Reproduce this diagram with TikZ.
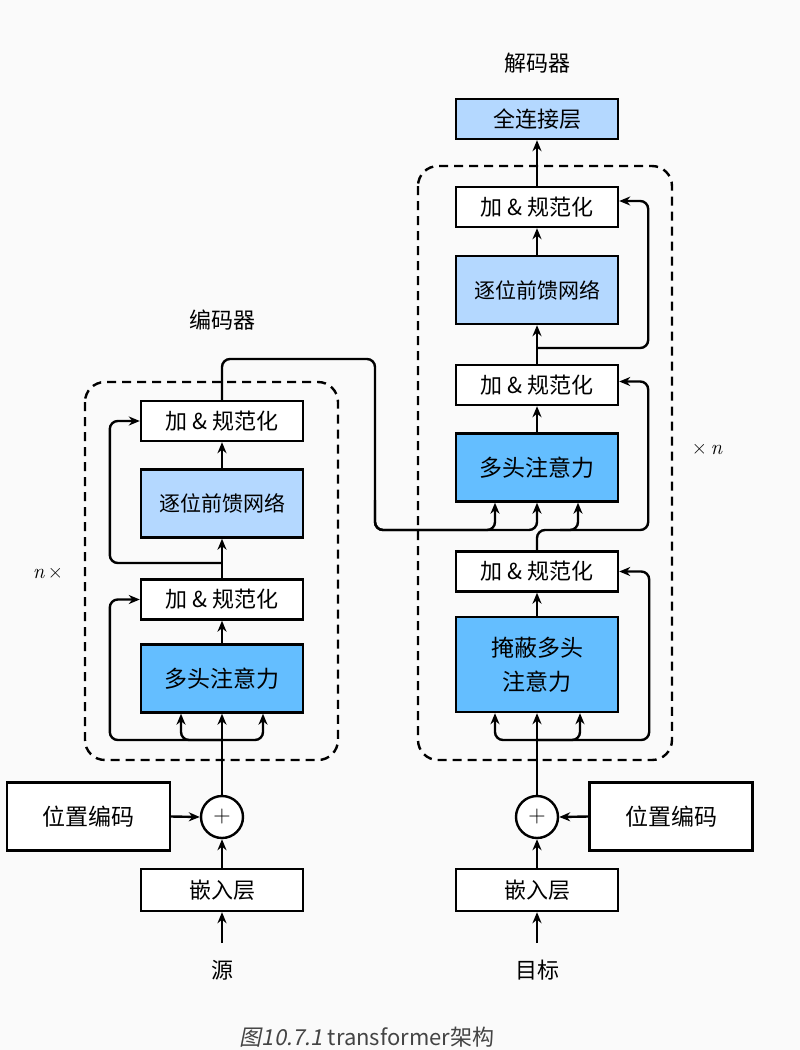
\documentclass[tikz,border=0pt]{standalone}
\usepackage{fontspec}
\setmainfont{Noto Sans CJK SC}
\newfontfamily\capslant[FakeSlant=0.2]{Noto Sans CJK SC}
\newfontfamily\lmfont{Latin Modern Roman}
\usetikzlibrary{arrows.meta,calc}
\definecolor{bgc}{HTML}{FAFAFA}
\definecolor{mhac}{HTML}{64BEFF}
\definecolor{ffnc}{HTML}{B4D8FF}
\definecolor{capc}{HTML}{444444}
\begin{document}
\begin{tikzpicture}[x=1pt,y=-1pt,
  box/.style={draw, line width=2.4pt, minimum width=162pt, inner sep=0pt, font=\fontsize{22}{26}\selectfont},
  an/.style={box, minimum height=40pt, fill=white},
  ffnbox/.style={box, minimum height=68pt, fill=ffnc, font=\fontsize{21}{25}\selectfont},
  mhabox/.style={box, minimum height=68pt, fill=mhac, font=\fontsize{23}{27}\selectfont},
  pebox/.style={box, minimum width=163pt, minimum height=68pt, fill=white, font=\fontsize{23}{27}\selectfont},
  plus/.style={draw, circle, line width=2.4pt, minimum size=42pt, inner sep=0pt, fill=white, font=\fontsize{24}{24}\lmfont},
  title/.style={font=\fontsize{22}{26}\selectfont},
  lbl/.style={font=\fontsize{22}{26}\selectfont},
  repl/.style={font=\fontsize{21}{25}\lmfont},
  arr/.style={line width=2.4pt, -{Stealth[length=11pt,width=9pt,inset=3.5pt]}},
  rc/.style={rounded corners=8pt},
  dashbox/.style={line width=2.4pt, dash pattern=on 9pt off 6pt, rounded corners=20pt}
]
\useasboundingbox (0,0) rectangle (800,1050);
\clip (0,0) rectangle (800,1050);
\fill[bgc] (0,0) rectangle (800,1050);

% ---------- encoder ----------
\node[title] (etitle) at (222,320) {编码器};
\draw[dashbox] (85,382) rectangle (338,760);
\node[lbl] (elbl) at (222,970) {源};
\node[repl] (enx) at (48,574) {{\itshape n}\,×};

\node[an] (eAN2) at (222,421) {加 \& 规范化};
\node[ffnbox] (eFFN) at (222,503.5) {逐位前馈网络};
\node[an] (eAN1) at (222,599.5) {加 \& 规范化};
\node[mhabox] (eMHA) at (222,678.5) {多头注意力};
\node[plus] (ePlus) at (222,817) {+};
\node[pebox] (ePE) at (88.5,816.5) {位置编码};
\node[an, minimum height=42pt] (eEmb) at (222,890) {嵌入层};
\coordinate (esrc) at (222,943);

\draw[arr] (esrc) -- (eEmb.south);
\draw[arr] (eEmb.north) -- (ePlus.south);
\draw[arr] (ePE.east) -- (ePlus.west);
\draw[arr] (ePlus.north) -- (eMHA.south);
\coordinate (es1) at (222,740);
\draw[arr,rc] (es1) -| ([xshift=-41pt]eMHA.south);
\draw[arr,rc] (es1) -| ([xshift=41pt]eMHA.south);
\draw[arr,rc] (es1) -| ([xshift=-30pt]eAN1.west) -- (eAN1.west);
\draw[arr] (eMHA.north) -- (eAN1.south);
\draw[arr] (eAN1.north) -- (eFFN.south);
\coordinate (es2) at (222,563);
\draw[arr,rc] (es2) -| ([xshift=-30pt]eAN2.west) -- (eAN2.west);
\draw[arr] (eFFN.north) -- (eAN2.south);

% ---------- decoder ----------
\node[title] (dtitle) at (537,63) {解码器};
\draw[dashbox] (418,166) rectangle (672,760);
\node[lbl] (dlbl) at (537,970) {目标};
\node[repl] (dnx) at (707,450) {×\,{\itshape n}};

\node[box, minimum height=40pt, fill=ffnc] (fc) at (537,119) {全连接层};
\node[an] (dAN3) at (537,207) {加 \& 规范化};
\node[ffnbox] (dFFN) at (537,290) {逐位前馈网络};
\node[an] (dAN2) at (537,385) {加 \& 规范化};
\node[mhabox] (dMHA) at (537,467.5) {多头注意力};
\node[an] (dAN1) at (537,571.5) {加 \& 规范化};
\node[mhabox, minimum height=95pt, align=center, font=\fontsize{23}{34}\selectfont] (dMMHA) at (537,664.5) {掩蔽多头\\注意力};
\node[plus] (dPlus) at (537,817) {+};
\node[pebox] (dPE) at (671,816.5) {位置编码};
\node[an, minimum height=42pt] (dEmb) at (537,890) {嵌入层};
\coordinate (dsrc) at (537,943);

\draw[arr] (dsrc) -- (dEmb.south);
\draw[arr] (dEmb.north) -- (dPlus.south);
\draw[arr] (dPE.west) -- (dPlus.east);
\draw[arr] (dPlus.north) -- (dMMHA.south);
\coordinate (ds1) at (537,740);
\draw[arr,rc] (ds1) -| ([xshift=-42pt]dMMHA.south);
\draw[arr,rc] (ds1) -| ([xshift=43pt]dMMHA.south);
\draw[arr,rc] (ds1) -| ([xshift=30pt]dAN1.east) -- (dAN1.east);
\draw[arr] (dMMHA.north) -- (dAN1.south);
\coordinate (ds2) at (560,530);
\draw[arr,rc] (dAN1.north) |- (578,530) -- ([xshift=41pt]dMHA.south);
\draw[arr,rc] (ds2) -| ([xshift=29pt,yshift=3.5pt]dAN2.east) -- ([yshift=3.5pt]dAN2.east);
\draw[arr] (dMHA.north) -- (dAN2.south);
\draw[arr] (dAN2.north) -- (dFFN.south);
\coordinate (ds3) at (537,348);
\draw[arr,rc] (ds3) -| ([xshift=29pt,yshift=6pt]dAN3.east) -- ([yshift=6pt]dAN3.east);
\draw[arr] (dFFN.north) -- (dAN3.south);
\draw[arr] (dAN3.north) -- (fc.south);

% ---------- encoder output to decoder ----------
\coordinate (eo1) at (375,359);
\coordinate (eo2) at (375,500);
\draw[arr,rc] (eAN2.north) |- (eo1) |- (495,530) -- ([xshift=-42pt]dMHA.south);
\draw[arr,rc] (eo2) |- (537,530) -- (dMHA.south);

% ---------- caption ----------
\node[anchor=base, text=capc, font=\fontsize{22}{26}\selectfont] (cap) at (367,1045) {{\capslant 图10.7.1} transformer架构};
\end{tikzpicture}
\end{document}
